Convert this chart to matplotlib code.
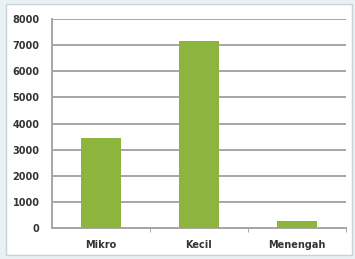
import matplotlib
matplotlib.use("Agg")
import matplotlib.pyplot as plt
from matplotlib.patches import Rectangle

categories = ["Mikro", "Kecil", "Menengah"]
values = [3450, 7160, 270]
yticks = [0, 1000, 2000, 3000, 4000, 5000, 6000, 7000, 8000]

plt.rcParams["font.family"] = ["DejaVu Sans"]

W, H = 355, 259
fig = plt.figure(figsize=(W/100, H/100), dpi=100, facecolor="#eaf1f5")
bg = fig.add_axes([0, 0, 1, 1], zorder=-5)
bg.set_axis_off()
bg.set_xlim(0, W)
bg.set_ylim(H, 0)
bg.add_patch(Rectangle((6, 4), 346, 251, facecolor="white", edgecolor="#c5d3da", linewidth=1.0))

ax = fig.add_axes([52/W, 1 - 228/H, 294/W, (228-19)/H], zorder=1)
ax.set_facecolor("none")
x = range(len(categories))
ax.bar(x, values, width=0.4, color="#8db43c", zorder=3)
ax.set_xlim(-0.5, 2.5)
ax.set_ylim(0, 8000)
ax.set_yticks(yticks)
ax.set_yticklabels([str(v) for v in yticks], fontsize=7, fontweight="bold", color="#333333")
ax.set_xticks(list(x))
ax.set_xticklabels(categories, fontsize=7, fontweight="bold", color="#333333")
ax.tick_params(axis="x", length=0, pad=9)
ax.tick_params(axis="y", length=0, pad=9)
ax.set_xticks([0.5, 1.5, 2.5], minor=True)
ax.tick_params(axis="x", which="minor", length=3, color="#999999", direction="out")
ax.grid(axis="y", color="#a6a6a6", linewidth=1.4, zorder=1)
for s in ["top", "right"]:
    ax.spines[s].set_visible(False)
ax.spines["left"].set_color("#a6a6a6")
ax.spines["bottom"].set_color("#a6a6a6")
ax.spines["left"].set_linewidth(1.4)
ax.spines["bottom"].set_linewidth(1.4)

fig.savefig("out.png", dpi=100, facecolor=fig.get_facecolor())
